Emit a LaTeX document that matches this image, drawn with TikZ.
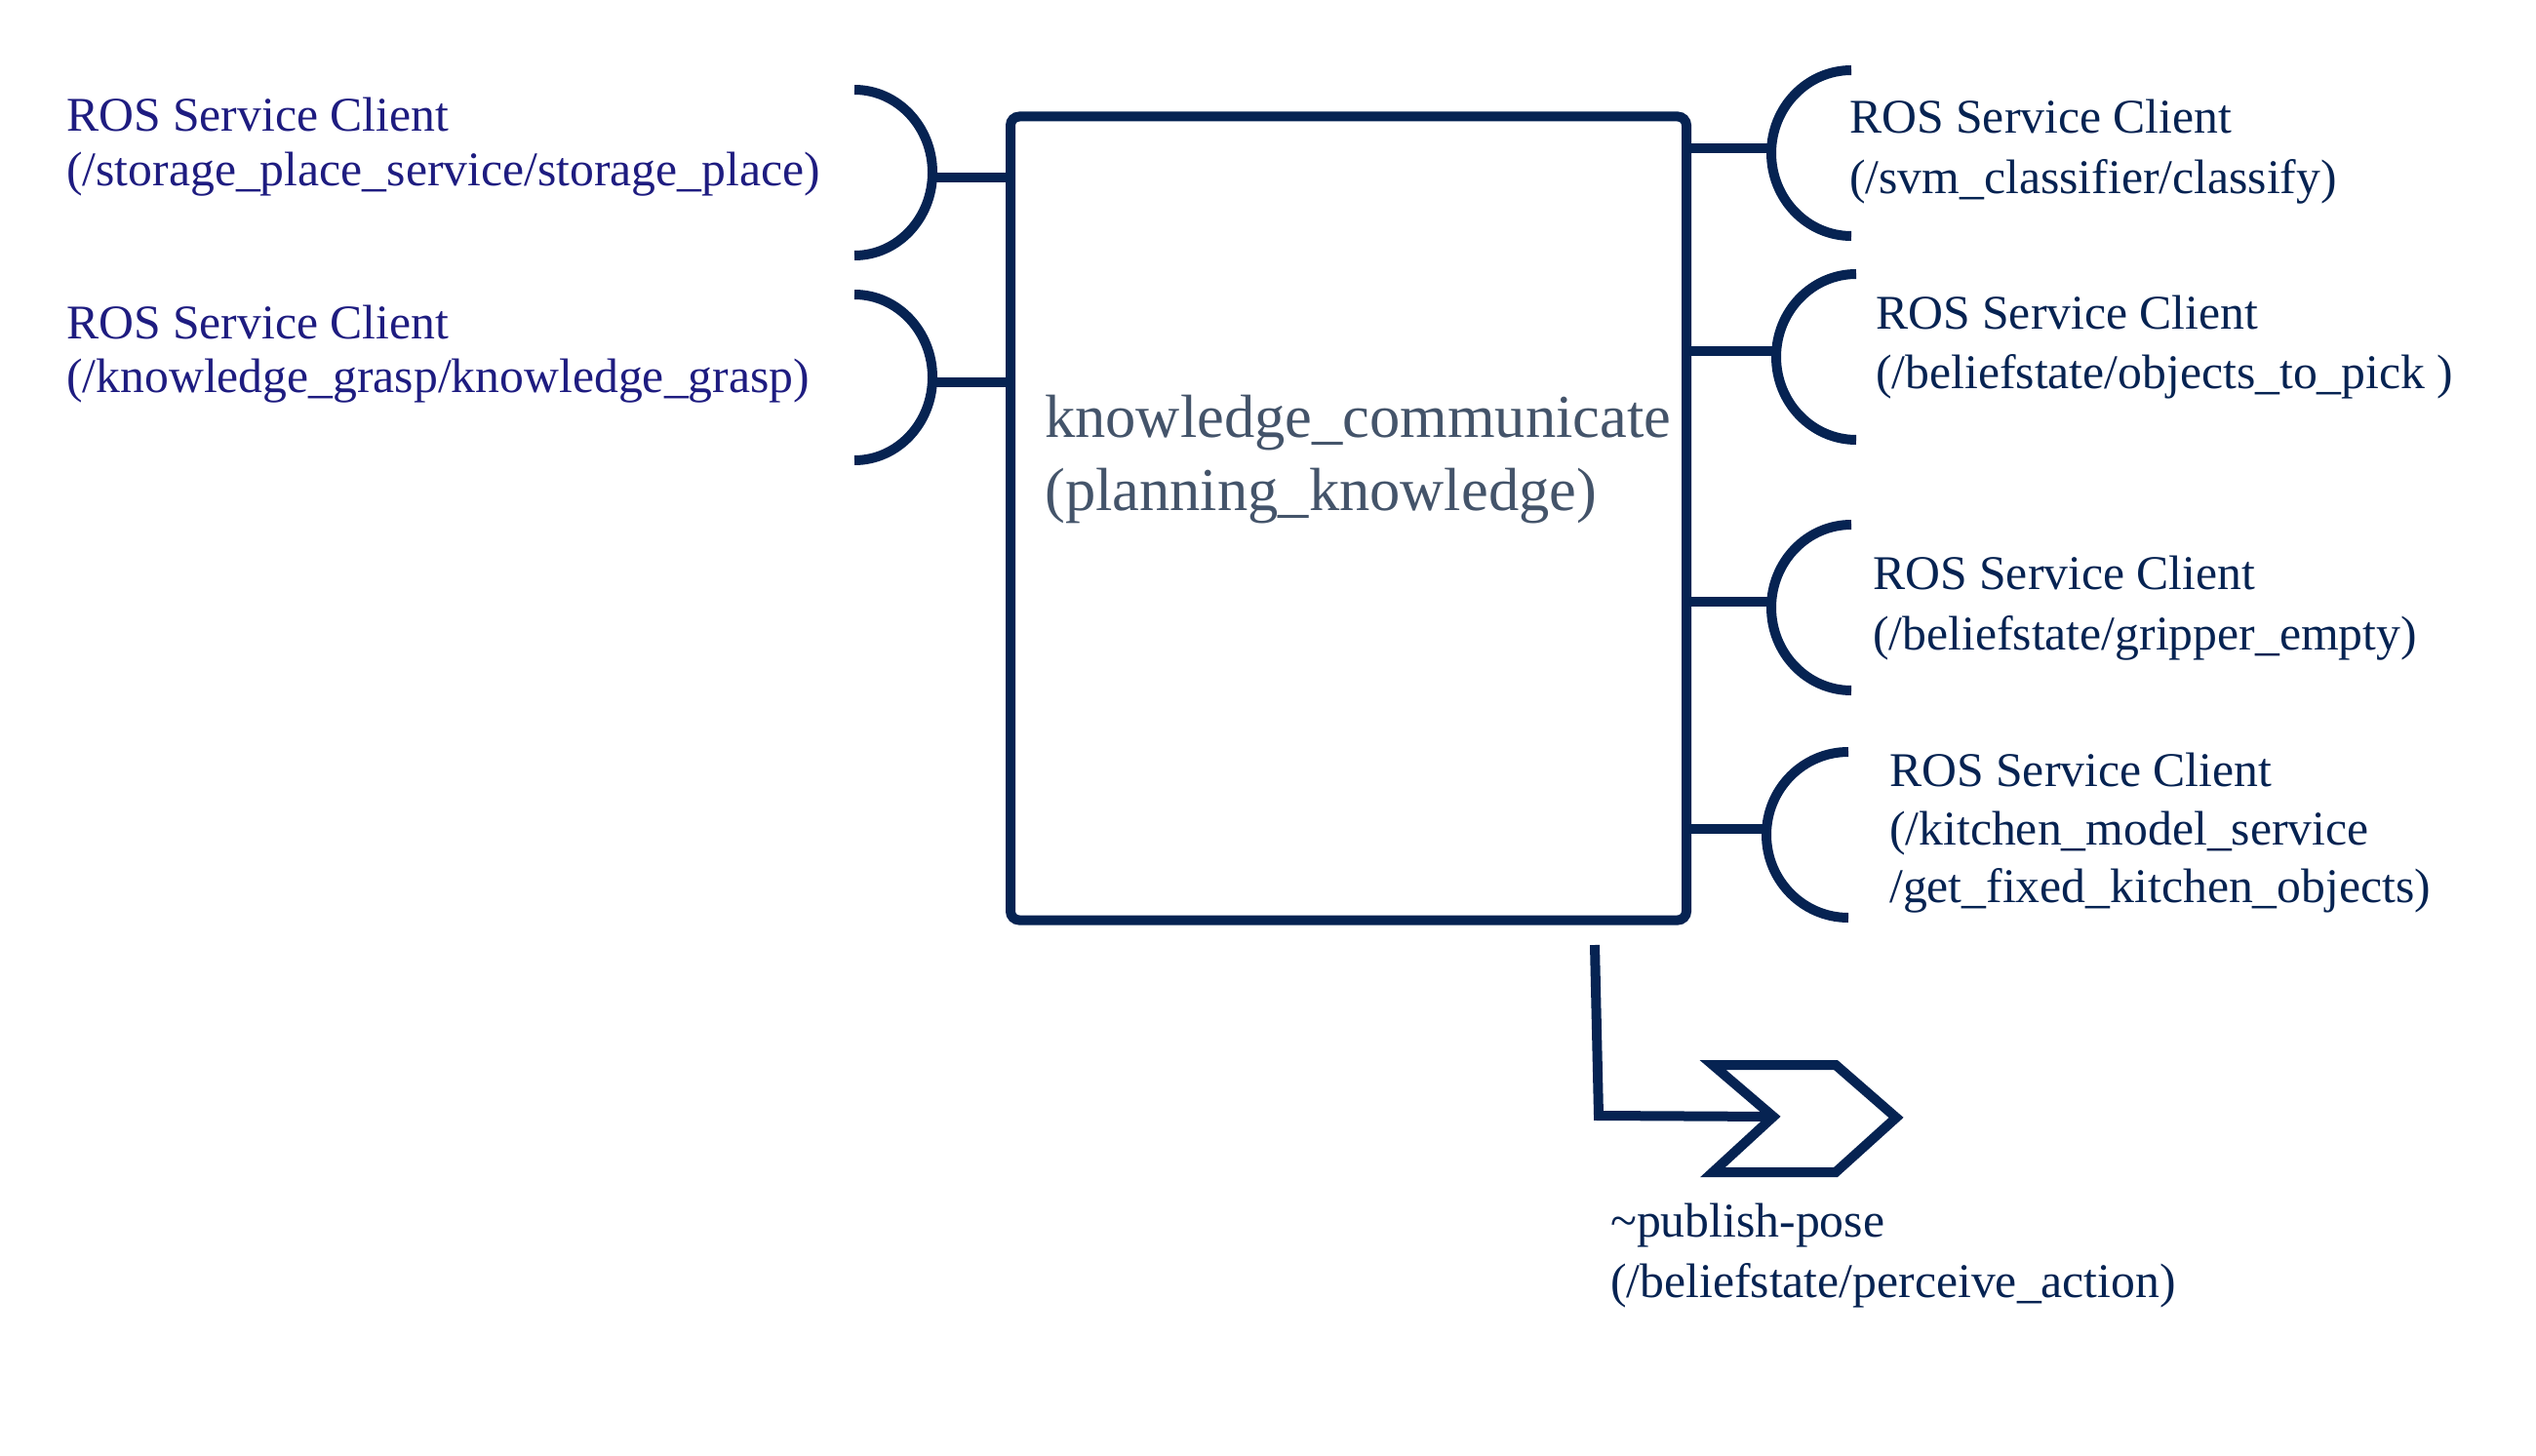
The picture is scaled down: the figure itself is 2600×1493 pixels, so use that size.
\documentclass[tikz,border=0pt]{standalone}
\usepackage{fontspec}
\setmainfont{Liberation Serif}
\definecolor{navy}{HTML}{062352}
\definecolor{leftblue}{HTML}{1E1C80}
\definecolor{maingrey}{HTML}{44546A}
\begin{document}
\begin{tikzpicture}[x=1pt,y=-1pt,
  wire/.style={draw=navy,line width=10pt},
  lbl/.style={anchor=base west,inner sep=0pt,font=\fontsize{49.7}{56}\selectfont},
  leftlbl/.style={lbl,text=leftblue},
  rightlbl/.style={lbl,text=navy},
  mainlbl/.style={anchor=base west,inner sep=0pt,text=maingrey,font=\fontsize{62.5}{73}\selectfont},
  mainbox/.style={draw=navy,line width=10pt,rounded corners=9pt,inner sep=0pt,
    minimum width=693pt,minimum height=824pt}]
\useasboundingbox (0,0) rectangle (2600,1493);

% main component
\node[mainbox] (main) at (1382.5,531.5) {};
\node[mainlbl] (t1) at (1071,448) {knowledge\_communicate};
\node[mainlbl] (t2) at (1071,523) {(planning\_knowledge)};

% left sockets
\coordinate (ls1) at (956,182);
\coordinate (ls2) at (956,392);
\draw[wire] (876,92) arc[start angle=90,end angle=-90,x radius=80pt,y radius=85pt];
\draw[wire] (876,302) arc[start angle=90,end angle=-90,x radius=80pt,y radius=85pt];
\draw[wire] (ls1) -- (main.west |- ls1);
\draw[wire] (ls2) -- (main.west |- ls2);
\node[leftlbl] (l1a) at (68,135) {ROS Service Client};
\node[leftlbl] (l1b) at (68,190) {(/storage\_place\_service/storage\_place)};
\node[leftlbl] (l2a) at (68,347) {ROS Service Client};
\node[leftlbl] (l2b) at (68,402) {(/knowledge\_grasp/knowledge\_grasp)};

% right sockets
\coordinate (rs1) at (1816,152);
\coordinate (rs2) at (1821,360);
\coordinate (rs3) at (1816,617);
\coordinate (rs4) at (1811,850);
\draw[wire] (1898,72) arc[start angle=90,end angle=270,x radius=82pt,y radius=85pt];
\draw[wire] (1903,281) arc[start angle=90,end angle=270,x radius=82pt,y radius=85pt];
\draw[wire] (1898,538) arc[start angle=90,end angle=270,x radius=82pt,y radius=85pt];
\draw[wire] (1895,771) arc[start angle=90,end angle=270,x radius=84pt,y radius=85pt];
\draw[wire] (main.east |- rs1) -- (rs1);
\draw[wire] (main.east |- rs2) -- (rs2);
\draw[wire] (main.east |- rs3) -- (rs3);
\draw[wire] (main.east |- rs4) -- (rs4);
\node[rightlbl] (r1a) at (1896,137) {ROS Service Client};
\node[rightlbl] (r1b) at (1896,198) {(/svm\_classifier/classify)};
\node[rightlbl] (r2a) at (1923,337) {ROS Service Client};
\node[rightlbl] (r2b) at (1923,398) {(/beliefstate/objects\_to\_pick )};
\node[rightlbl] (r3a) at (1920,604) {ROS Service Client};
\node[rightlbl] (r3b) at (1920,666) {(/beliefstate/gripper\_empty)};
\node[rightlbl] (r4a) at (1937,806) {ROS Service Client};
\node[rightlbl] (r4b) at (1937,866) {(/kitchen\_model\_service};
\node[rightlbl] (r4c) at (1937,925) {/get\_fixed\_kitchen\_objects)};

% publisher
\coordinate (pubstart) at (1635,969);
\coordinate (pubcorner) at (1639,1144);
\coordinate (pubnotch) at (1818,1145);
\draw[wire,line join=miter] (pubstart) -- (pubcorner) -- (pubnotch);
\draw[wire,line join=miter] (1756,1092) -- (1882,1092) -- (1944,1146) -- (1882,1202)
  -- (1756,1202) -- (pubnotch) -- cycle;
\node[rightlbl] (p1) at (1651,1268) {\textasciitilde publish-pose};
\node[rightlbl] (p2) at (1651,1330) {(/beliefstate/perceive\_action)};
\end{tikzpicture}
\end{document}
